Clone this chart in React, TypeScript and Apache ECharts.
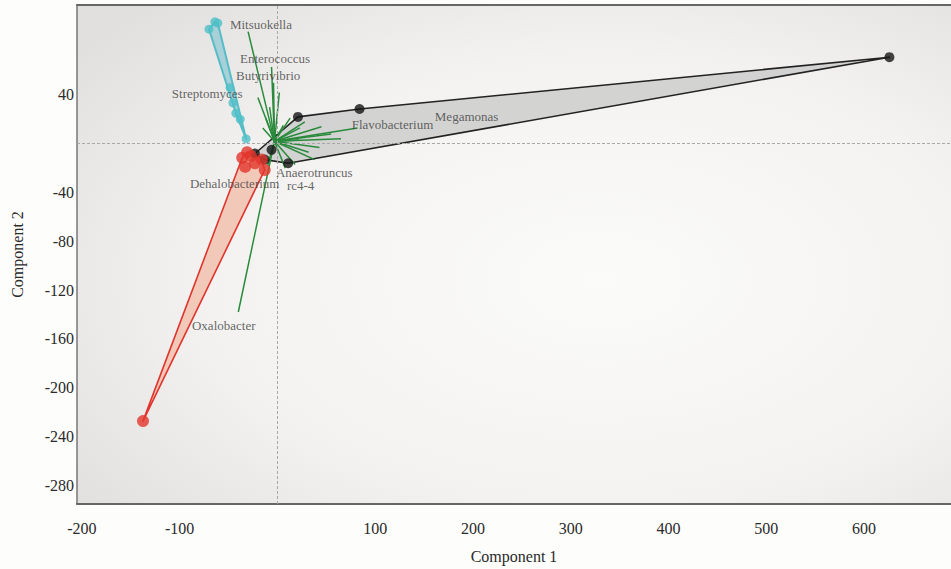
import React, { useEffect, useRef } from "react";
import * as echarts from "echarts";

// ---- data (Component 1, Component 2) ----
const blackPoints: number[][] = [
  [626, 71], [84, 28.5], [21, 22], [11, -16], [-6, -5], [-23, -8], [-13, -13],
];
const redPoints: number[][] = [
  [-31, -7], [-36, -11.5], [-33, -19], [-16, -13], [-13, -21.5], [-23, -16], [-27, -10], [-137.5, -227.5],
];
const cyanPoints: number[][] = [
  [-64, 100], [-70, 94], [-61, 99], [-48.5, 46], [-45.5, 33.5], [-42.5, 25], [-38, 20], [-32, 4],
];
const vectorOrigin: number[] = [-3, 2];
const vectorEnds: number[][] = [
  [-30, 92], [-6, 63], [-4, 50], [-20, 38], [82, 13], [43, -3], [38, -13], [23, 13],
  [13, 21], [6, 15], [-12, 21], [-15, 13], [22, 3], [32, -7], [-40, -138], [8, -20],
  [55, 8], [28, 18], [-8, 30], [2, 42], [18, -17], [-10, -18], [65, 4], [45, 14],
];
const labelNames: string[] = [
  "Mitsuokella", "Enterococcus", "Butyrivibrio", "Streptomyces", "Flavobacterium",
  "Megamonas", "Anaerotruncus", "Dehalobacterium", "rc4-4", "Oxalobacter",
];
const labelX: number[] = [-48.6, -38.3, -42.4, -108, 76, 161, -1.5, -89.5, 9.7, -87.4];
const labelY: number[] = [97.4, 70, 56, 41.6, 15.4, 22, -23.5, -33, -34.5, -148.8];
const xTicks: number[] = [-200, -100, 100, 200, 300, 400, 500, 600];
const yTicks: number[] = [40, -40, -80, -120, -160, -200, -240, -280];

const FONT = "Liberation Serif";

function hull(pts: number[][]): number[][] {
  const p = pts.slice().sort((a, b) => a[0] - b[0] || a[1] - b[1]);
  const cross = (o: number[], a: number[], b: number[]) =>
    (a[0] - o[0]) * (b[1] - o[1]) - (a[1] - o[1]) * (b[0] - o[0]);
  const lower: number[][] = [];
  for (const q of p) {
    while (lower.length >= 2 && cross(lower[lower.length - 2], lower[lower.length - 1], q) <= 0) lower.pop();
    lower.push(q);
  }
  const upper: number[][] = [];
  for (let i = p.length - 1; i >= 0; i--) {
    const q = p[i];
    while (upper.length >= 2 && cross(upper[upper.length - 2], upper[upper.length - 1], q) <= 0) upper.pop();
    upper.push(q);
  }
  upper.pop();
  lower.pop();
  return lower.concat(upper);
}

function hullSeries(pts: number[][], fill: string, stroke: string, width: number) {
  const h = hull(pts);
  return {
    type: "custom",
    coordinateSystem: "cartesian2d",
    silent: true,
    z: 2,
    data: h,
    renderItem: (params: any, api: any) => {
      if (params.dataIndex !== 0) return null;
      const points = h.map((q) => api.coord(q));
      return {
        type: "polygon",
        shape: { points },
        style: { fill, stroke, lineWidth: width, lineJoin: "round" },
      };
    },
  };
}

export default function App() {
  const ref = useRef<HTMLDivElement>(null);
  useEffect(() => {
    document.body.style.margin = "0";
    const chart = echarts.init(ref.current!, null, { renderer: "svg" });
    const bg = new echarts.graphic.RadialGradient(0.6, 0.55, 0.75, [
      { offset: 0, color: "#fbfbf9" },
      { offset: 0.6, color: "#f3f2f0" },
      { offset: 1, color: "#e2e0de" },
    ]);
    const option: any = {
      animation: false,
      backgroundColor: "#fdfdfb",
      grid: {
        left: 77, right: 0, top: 5, bottom: 65,
        show: true, backgroundColor: bg, borderWidth: 0,
      },
      xAxis: [
        {
          type: "value", min: -205, max: 689,
          name: "Component 1", nameLocation: "middle", nameGap: 44,
          nameTextStyle: { fontFamily: FONT, fontSize: 16, color: "#2a2a2a" },
          axisLine: { show: true, onZero: false, lineStyle: { color: "#666", width: 2 } },
          axisTick: { show: false },
          splitLine: { show: false },
          axisLabel: {
            customValues: xTicks, margin: 16,
            fontFamily: FONT, fontSize: 16, color: "#2a2a2a",
            showMinLabel: true, showMaxLabel: true,
          },
        },
        {
          type: "value", position: "top", min: -205, max: 689,
          axisLine: { show: true, onZero: false, lineStyle: { color: "#666", width: 2 } },
          axisTick: { show: false }, axisLabel: { show: false }, splitLine: { show: false },
        },
      ],
      yAxis: {
        type: "value", min: -295.5, max: 113.8,
        name: "Component 2", nameLocation: "middle", nameGap: 52,
        nameTextStyle: { fontFamily: FONT, fontSize: 16, color: "#2a2a2a" },
        axisLine: { show: true, onZero: false, lineStyle: { color: "#777", width: 1.5 } },
        axisTick: { show: false },
        splitLine: { show: false },
        axisLabel: {
          customValues: yTicks, margin: 3,
          fontFamily: FONT, fontSize: 16, color: "#2a2a2a",
        },
      },
      series: [
        {
          type: "scatter", data: [], silent: true,
          markLine: {
            silent: true, symbol: "none", label: { show: false },
            lineStyle: { color: "#a8a8a8", type: [3, 2], width: 1 },
            data: [{ xAxis: 0 }, { yAxis: 0 }],
          },
        },
        hullSeries(blackPoints, "rgba(205,205,205,0.85)", "#222", 1.6),
        hullSeries(redPoints, "rgba(242,196,178,0.9)", "#e0342c", 1.6),
        hullSeries(cyanPoints, "rgba(160,205,215,0.9)", "#56bcc6", 2),
        {
          type: "lines", coordinateSystem: "cartesian2d", silent: true, z: 3,
          lineStyle: { color: "#2a8a3c", width: 1.5, opacity: 1 },
          data: vectorEnds.map((e) => ({ coords: [vectorOrigin, e] })),
        },
        {
          type: "scatter", z: 4, symbolSize: 10, silent: true,
          itemStyle: { color: "#151515" }, data: blackPoints,
        },
        {
          type: "scatter", z: 4, symbolSize: 12, silent: true,
          itemStyle: { color: "#e2362c" }, data: redPoints,
        },
        {
          type: "scatter", z: 4, symbolSize: 9, silent: true,
          itemStyle: { color: "#4fbfc8" }, data: cyanPoints,
        },
        {
          type: "scatter", z: 5, symbolSize: 0, silent: true,
          data: labelNames.map((n, i) => ({ name: n, value: [labelX[i], labelY[i]] })),
          label: {
            show: true, position: "right", distance: 0, formatter: "{b}",
            fontFamily: FONT, fontSize: 13, color: "#404040",
            align: "left", verticalAlign: "middle",
          },
        },
      ],
    };
    chart.setOption(option);
    return () => chart.dispose();
  }, []);
  return <div ref={ref} style={{ width: 951, height: 569 }} />;
}
